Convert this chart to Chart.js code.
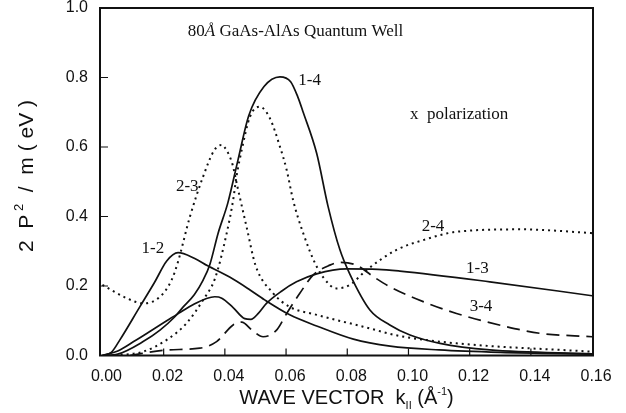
<!DOCTYPE html>
<html>
<head>
<meta charset="utf-8">
<script src="https://cdn.jsdelivr.net/npm/chart.js@4.4.1/dist/chart.umd.min.js"></script>
<style>
  html,body{margin:0;padding:0;background:#fff}
  #wrap{width:626px;height:413px}
</style>
</head>
<body>
<div id="wrap"><canvas id="chart" width="626" height="413"></canvas></div>
<script>
/* ===== Data (k in 1/Angstrom, 2P^2/m in eV) ===== */
const k12 = [0, 0.003, 0.0057, 0.0122, 0.017, 0.021, 0.0247, 0.030, 0.0344, 0.0417, 0.048, 0.053, 0.0612, 0.070, 0.082, 0.094, 0.110, 0.130, 0.160];
const v12 = [0, 0.01, 0.045, 0.14, 0.21, 0.272, 0.296, 0.280, 0.258, 0.225, 0.19, 0.16, 0.117, 0.085, 0.047, 0.027, 0.016, 0.009, 0.004];

const k13 = [0, 0.005, 0.0102, 0.016, 0.021, 0.025, 0.030, 0.034, 0.0367, 0.039, 0.0427, 0.0465, 0.0485, 0.051, 0.0536, 0.0585, 0.0634, 0.070, 0.0798, 0.090, 0.0972, 0.1266, 0.160];
const v13 = [0, 0.013, 0.04, 0.072, 0.10, 0.122, 0.148, 0.164, 0.169, 0.165, 0.138, 0.106, 0.104, 0.122, 0.15, 0.185, 0.212, 0.235, 0.249, 0.248, 0.243, 0.212, 0.172];

const k14 = [0, 0.005, 0.0133, 0.0188, 0.0235, 0.0264, 0.030, 0.0329, 0.0351, 0.0378, 0.041, 0.0443, 0.0478, 0.0528, 0.058, 0.0615, 0.0638, 0.0656, 0.070, 0.0737, 0.0776, 0.0808, 0.0874, 0.0939, 0.1005, 0.1103, 0.1266, 0.160];
const v14 = [0, 0.004, 0.04, 0.073, 0.11, 0.14, 0.175, 0.217, 0.262, 0.352, 0.44, 0.563, 0.69, 0.774, 0.802, 0.788, 0.745, 0.70, 0.582, 0.43, 0.304, 0.235, 0.131, 0.088, 0.059, 0.035, 0.016, 0.005];

const k23 = [0, 0.0079, 0.0133, 0.0188, 0.0226, 0.0247, 0.0286, 0.0329, 0.0365, 0.0389, 0.0406, 0.0425, 0.044, 0.0471, 0.050, 0.0558, 0.0612, 0.070, 0.0852, 0.0972, 0.1157, 0.160];
const v23 = [0.203, 0.165, 0.150, 0.169, 0.217, 0.27, 0.40, 0.515, 0.59, 0.606, 0.59, 0.55, 0.49, 0.37, 0.26, 0.179, 0.14, 0.117, 0.083, 0.056, 0.035, 0.011];

const k24 = [0.004, 0.0133, 0.021, 0.0275, 0.0329, 0.0368, 0.0406, 0.0427, 0.0438, 0.0455, 0.0482, 0.0514, 0.0547, 0.058, 0.0602, 0.0623, 0.0656, 0.070, 0.0743, 0.0765, 0.0808, 0.0863, 0.0961, 0.1048, 0.1157, 0.1375, 0.1484, 0.160];
const v24 = [0, 0.011, 0.045, 0.093, 0.16, 0.222, 0.352, 0.447, 0.515, 0.591, 0.687, 0.716, 0.683, 0.601, 0.534, 0.447, 0.352, 0.256, 0.203, 0.193, 0.203, 0.246, 0.304, 0.332, 0.356, 0.363, 0.359, 0.352];

const k34 = [0.009, 0.021, 0.0318, 0.0373, 0.0427, 0.0455, 0.049, 0.0525, 0.0569, 0.0602, 0.0645, 0.0689, 0.0743, 0.0776, 0.083, 0.0885, 0.0939, 0.1048, 0.1157, 0.132, 0.1429, 0.160];
const v34 = [0, 0.016, 0.021, 0.04, 0.088, 0.096, 0.072, 0.054, 0.073, 0.121, 0.179, 0.232, 0.260, 0.268, 0.260, 0.227, 0.198, 0.155, 0.121, 0.083, 0.064, 0.054];

const xTicks = [0, 0.02, 0.04, 0.06, 0.08, 0.10, 0.12, 0.14, 0.16];
const yTicks = [0, 0.2, 0.4, 0.6, 0.8, 1.0];

// curve labels and where they sit (data coords, left edge / middle)
const labelText = ["1-2", "1-3", "1-4", "2-3", "2-4", "3-4"];
const labelK    = [0.0128, 0.1188, 0.064, 0.024, 0.1043, 0.120];
const labelV    = [0.308, 0.251, 0.792, 0.486, 0.371, 0.14];

/* ===== Setup ===== */
const INK = "#111";
const SANS = "'Liberation Sans', Arial, sans-serif";
const SERIF = "'Liberation Serif', 'Times New Roman', serif";
Chart.defaults.font.family = SANS;
Chart.defaults.color = INK;

const pts = (ks, vs) => ks.map((k, i) => ({x: k, y: vs[i]}));

function series(ks, vs, dash){
  return {
    data: pts(ks, vs),
    borderColor: INK,
    borderWidth: dash && dash[0] < 4 ? 2 : 1.7,
    borderDash: dash || [],
    pointRadius: 0,
    fill: false,
    cubicInterpolationMode: "monotone"
  };
}

const datasets = [
  series(k12, v12),
  series(k13, v13),
  series(k14, v14),
  series(k23, v23, [2, 4]),
  series(k24, v24, [2, 4]),
  series(k34, v34, [13, 7])
];

// draw text made of pieces (font, text, baseline shift)
function drawPieces(ctx, pieces, x, y){
  let w = 0;
  pieces.forEach(p => { ctx.font = p.f; p.w = ctx.measureText(p.t).width; w += p.w; });
  let cx = x - w / 2;
  pieces.forEach(p => { ctx.font = p.f; ctx.fillText(p.t, cx, y + (p.dy || 0)); cx += p.w; });
}

const decor = {
  id: "decor",
  afterDraw(chart){
    const {ctx, chartArea: a, scales: {x, y}} = chart;
    ctx.save();
    // frame
    ctx.strokeStyle = INK;
    ctx.lineWidth = 2;
    ctx.strokeRect(a.left, a.top, a.right - a.left, a.bottom - a.top);
    // inward ticks
    ctx.lineWidth = 1.2;
    ctx.beginPath();
    xTicks.slice(1, -1).forEach(v => {
      const px = x.getPixelForValue(v);
      ctx.moveTo(px, a.bottom); ctx.lineTo(px, a.bottom - 7);
    });
    yTicks.slice(1, -1).forEach(v => {
      const py = y.getPixelForValue(v);
      ctx.moveTo(a.left, py); ctx.lineTo(a.left + 8, py);
    });
    ctx.stroke();

    ctx.fillStyle = INK;
    ctx.textAlign = "left";
    ctx.textBaseline = "middle";

    // curve labels
    ctx.font = "17px " + SERIF;
    labelText.forEach((t, i) => ctx.fillText(t, x.getPixelForValue(labelK[i]), y.getPixelForValue(labelV[i])));

    // header texts
    let tx = x.getPixelForValue(0.0279), ty = y.getPixelForValue(0.931);
    ctx.font = "17px " + SERIF;
    ctx.fillText("80", tx, ty); tx += ctx.measureText("80").width;
    ctx.font = "italic 17px " + SERIF;
    ctx.fillText("Å", tx, ty); tx += ctx.measureText("Å").width;
    ctx.font = "17px " + SERIF;
    ctx.fillText(" GaAs-AlAs Quantum Well", tx, ty);
    ctx.fillText("x  polarization", x.getPixelForValue(0.1005), y.getPixelForValue(0.692));

    // axis titles
    ctx.textBaseline = "alphabetic";
    const big = "20px " + SANS, small = "11px " + SANS;
    drawPieces(ctx, [
      {t: "WAVE VECTOR  k", f: big},
      {t: "II", f: small, dy: 5},
      {t: " (Å", f: big},
      {t: "-1", f: small, dy: -9},
      {t: ")", f: big}
    ], (a.left + a.right) / 2, 404);

    ctx.translate(33, 176);
    ctx.rotate(-Math.PI / 2);
    drawPieces(ctx, [
      {t: "2  P", f: "21px " + SANS},
      {t: " 2", f: "13px " + SANS, dy: -10},
      {t: "  /  m ( eV )", f: "21px " + SANS}
    ], 0, 0);
    ctx.restore();
  }
};

/* ===== Chart ===== */
new Chart(document.getElementById("chart"), {
  type: "line",
  data: {datasets},
  options: {
    responsive: false,
    animation: false,
    layout: {padding: {left: 0, top: 8, right: 33, bottom: 0}},
    plugins: {legend: {display: false}, tooltip: {enabled: false}},
    scales: {
      x: {
        type: "linear",
        min: -0.0008,
        max: 0.1603,
        afterBuildTicks: s => { s.ticks = xTicks.map(v => ({value: v})); },
        afterFit: s => { s.height = 57.5; s.paddingLeft = 0; s.paddingRight = 0; },
        grid: {display: false, drawTicks: false},
        border: {display: false},
        ticks: {
          font: {size: 16},
          color: INK,
          padding: 11,
          labelOffset: 4,
          maxRotation: 0,
          callback: v => v.toFixed(2)
        }
      },
      y: {
        min: 0,
        max: 1.0,
        afterBuildTicks: s => { s.ticks = yTicks.map(v => ({value: v})); },
        afterFit: s => { s.width = 100; s.paddingTop = 0; s.paddingBottom = 0; },
        grid: {display: false, drawTicks: false},
        border: {display: false},
        ticks: {
          font: {size: 16},
          color: INK,
          padding: 12,
          callback: v => v.toFixed(1)
        }
      }
    }
  },
  plugins: [decor]
});
</script>
</body>
</html>
